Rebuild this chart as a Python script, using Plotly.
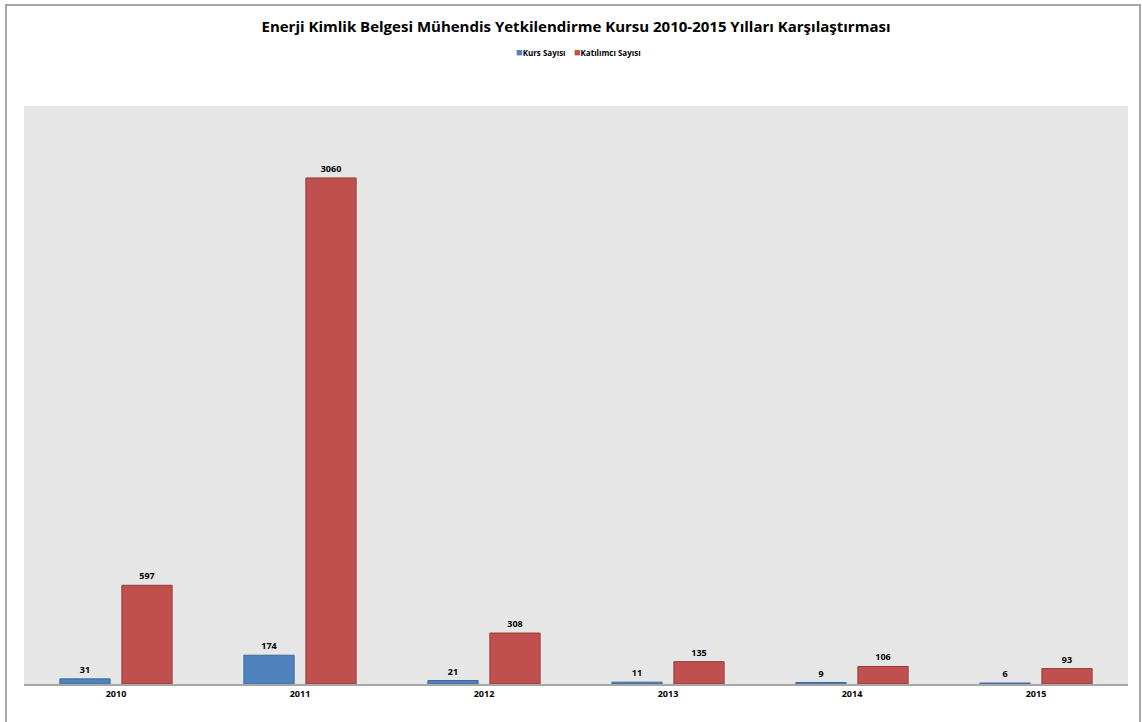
import plotly.graph_objects as go

years = ["2010", "2011", "2012", "2013", "2014", "2015"]
kurs_sayisi = [31, 174, 21, 11, 9, 6]
katilimci_sayisi = [597, 3060, 308, 135, 106, 93]
series_names = ["Kurs Sayısı", "Katılımcı Sayısı"]
series_colors = ["#4f81bd", "#c0504d"]
series_edges = ["#3d6a9e", "#953b39"]

W, H = 1142, 722
L, R, T, B = 24, 1128, 106, 684

label_font = dict(family="Open Sans", size=9, color="#000000")

fig = go.Figure()
for name, vals, col, edge in zip(series_names, [kurs_sayisi, katilimci_sayisi],
                                 series_colors, series_edges):
    fig.add_trace(go.Bar(
        name=name, x=years, y=vals,
        marker=dict(color=col, line=dict(color=edge, width=1)),
        text=[f"<b>{v}</b>" for v in vals], textposition="outside",
        textfont=label_font, cliponaxis=False,
    ))

fig.update_layout(
    width=W, height=H,
    margin=dict(l=L, r=W - R, t=T, b=H - B, pad=0),
    paper_bgcolor="#ffffff",
    plot_bgcolor="#e6e6e6",
    barmode="group", bargap=0.326, bargroupgap=0.19,
    title=dict(
        text="<b>Enerji Kimlik Belgesi Mühendis Yetkilendirme Kursu 2010-2015 Yılları Karşılaştırması</b>",
        x=0.5, xref="paper", xanchor="center",
        y=1 - 27 / H, yref="container", yanchor="middle",
        font=dict(family="Open Sans", size=15, color="#000000"),
    ),
    showlegend=False,
    uniformtext=dict(minsize=9, mode="show"),
)

# compact legend line under the title
legend_text = "&nbsp;&nbsp;&nbsp;&nbsp;".join(
    f'<span style="color:{c};font-size:11px">■</span><b>{n}</b>'
    for n, c in zip(series_names, series_colors)
)
fig.add_annotation(
    text=legend_text, xref="paper", yref="paper",
    x=(578 - L) / (R - L), y=(B - 52) / (B - T),
    xanchor="center", yanchor="middle", showarrow=False,
    font=dict(family="Open Sans", size=8, color="#000000"),
)

fig.update_xaxes(
    showgrid=False, showline=True, linecolor="#a6a6a6", linewidth=2,
    ticks="", tickfont=dict(family="Open Sans", size=9, color="#000000"),
    tickvals=years, ticktext=[f"<b>{y}</b>" for y in years],
    zeroline=False,
)
fig.update_yaxes(
    range=[0, 3495], showgrid=False, showticklabels=False,
    zeroline=False, showline=False, ticks="",
)

# chart frame
fig.add_shape(
    type="rect", xref="paper", yref="paper",
    x0=(6 - L) / (R - L), x1=(1140 - L) / (R - L),
    y0=(B - 730) / (B - T), y1=(B - 5) / (B - T),
    line=dict(color="#a6a6a6", width=2), fillcolor="rgba(0,0,0,0)",
    layer="below",
)

fig.write_html("out.html")
